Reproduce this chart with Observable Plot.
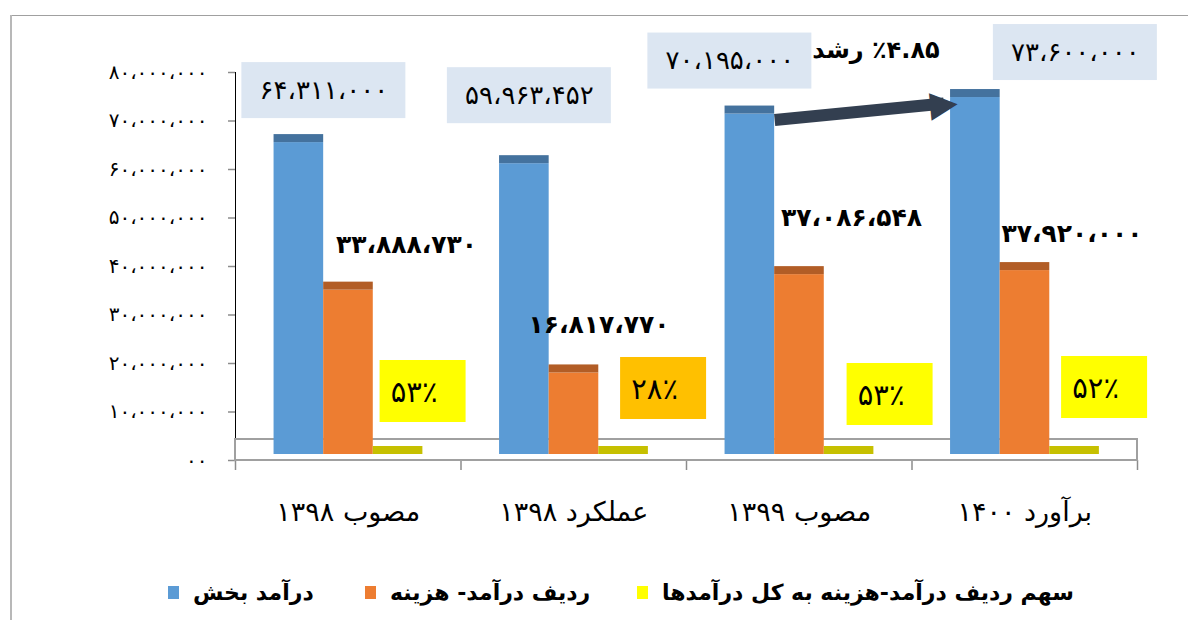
<!DOCTYPE html>
<html lang="fa">
<head>
<meta charset="utf-8">
<script src="https://cdn.jsdelivr.net/npm/d3@7"></script>
<script src="https://cdn.jsdelivr.net/npm/@observablehq/plot@0.6"></script>
<style>
  html,body{margin:0;padding:0;background:#fff;}
  #wrap{position:relative;width:1188px;height:620px;overflow:hidden;font-family:"DejaVu Sans",sans-serif;}
  #chart{position:absolute;left:0;top:0;}
  #chart svg [aria-label*="axis"] line, #chart svg [aria-label*="axis"] path{stroke:#8c8c8c;stroke-width:1.5px;}
  #topline{position:absolute;left:10px;top:15px;width:1178px;height:1px;background:#a0a0a0;}
  #leftline{position:absolute;left:10px;top:15px;width:2px;height:605px;background:#b8b8b8;}
  #legend{position:absolute;top:577px;left:0;height:30px;font-weight:bold;font-size:22px;color:#000;}
  .item{position:absolute;top:0;display:flex;align-items:center;height:30px;white-space:nowrap;}
  .sw{width:11px;height:13px;margin-right:14px;flex:none;}
</style>
</head>
<body>
<div id="wrap">
  <div id="chart"></div>
  <div id="legend"></div>
  <div id="topline"></div>
  <div id="leftline"></div>
</div>
<script>
// ---------- data ----------
const categories = ["مصوب ۱۳۹۸", "عملکرد ۱۳۹۸", "مصوب ۱۳۹۹", "برآورد ۱۴۰۰"];
const sectorIncome = [64311000, 59963452, 70195000, 73600000];
const incomeExpenseRow = [33888730, 16817770, 37086548, 37920000];
const shareOfTotal = [0.53, 0.28, 0.53, 0.52];
const growthPercent = 4.85;
const yTickValues = [0, 10000000, 20000000, 30000000, 40000000, 50000000, 60000000, 70000000, 80000000];
const yTickLabels = ["۰۰", "۱۰،۰۰۰،۰۰۰", "۲۰،۰۰۰،۰۰۰", "۳۰،۰۰۰،۰۰۰", "۴۰،۰۰۰،۰۰۰", "۵۰،۰۰۰،۰۰۰", "۶۰،۰۰۰،۰۰۰", "۷۰،۰۰۰،۰۰۰", "۸۰،۰۰۰،۰۰۰"];
const seriesNames = ["درآمد بخش", "ردیف درآمد- هزینه", "سهم ردیف درآمد-هزینه به کل درآمدها"];

// ---------- formatting ----------
const faDigits = s => String(s).replace(/[0-9]/g, d => "۰۱۲۳۴۵۶۷۸۹"[+d]);
const faNumber = v => faDigits(d3.format(",")(v)).replace(/,/g, "،");
const faPercent = v => faDigits(Math.round(v * 100)) + "٪";
const growthLabel = "\u200F٪" + faDigits(growthPercent.toFixed(2)) + " رشد";
const yLabelOf = new Map(yTickValues.map((v, i) => [v, yTickLabels[i]]));

// ---------- styles / layout ----------
const W = 1188, H = 568, mL = 235, mR = 51, mT = 72, mB = 108;
const bodyColors = ["#5b9bd5", "#ed7d31"];
const capColors = ["#44729e", "#b25d26"];
const shareBarColor = "#c6c000";
const legendColors = ["#5b9bd5", "#ed7d31", "#ffff00"];
const incomeBoxColor = "#dce6f2";
const shareBoxColors = ["#ffff00", "#ffc000", "#ffff00", "#ffff00"];
const slot = [0.171, 0.391, 0.611], bw = 0.22;
const blueOff = [[25, -58], [5, -74], [-20, -59], [100, -51]];
const orangeOff = [[58, -51], [25, -54], [52, -63], [47, -43]];
const shareOff = [[16, -68], [31, -71], [32, -65], [21, -72]];

const series = [sectorIncome, incomeExpenseRow, shareOfTotal];
const rows = series.flatMap((vals, s) => vals.map((value, i) => ({i, s, value})));
const X1 = d => d.i + slot[d.s], X2 = d => d.i + slot[d.s] + bw;

// arrow head angle from the pixel slope between the two bars
const sx = (W - mL - mR) / categories.length, sy = (H - mT - mB) / 80000000;
const headAngle = -Math.atan2((sectorIncome[3] - sectorIncome[2]) * sy, (1 - bw) * sx) * 180 / Math.PI;

const marks = [
  // 3D floor
  Plot.rect([0], {x1: () => 0, x2: () => categories.length, y1: () => 0, y2: () => 0, insetTop: -21, fill: "white", stroke: "#a0a0a0", strokeWidth: 2}),
];
[0, 1].forEach(s => {
  const d = rows.filter(r => r.s === s);
  marks.push(Plot.rect(d, {x1: X1, x2: X2, y1: 0, y2: "value", fill: bodyColors[s], dy: -6}));
  marks.push(Plot.rect(d, {x1: X1, x2: X2, y1: "value", y2: "value", insetTop: -8, fill: capColors[s], dy: -6}));
});
marks.push(Plot.rect(rows.filter(r => r.s === 2), {x1: X1, x2: X2, y1: 0, y2: "value", insetTop: -8, fill: shareBarColor, dy: -6}));

// label boxes (centered on the label anchors)
sectorIncome.forEach((v, i) => {
  const ax = j => j + slot[0] + bw / 2, ay = j => sectorIncome[j];
  marks.push(Plot.rect([i], {x1: ax, x2: ax, y1: ay, y2: ay, insetLeft: -82, insetRight: -82, insetTop: -28, insetBottom: -28, dx: blueOff[i][0], dy: blueOff[i][1], fill: incomeBoxColor}));
});
shareOfTotal.forEach((v, i) => {
  const ax = j => j + slot[2] + bw / 2, ay = j => shareOfTotal[j];
  marks.push(Plot.rect([i], {x1: ax, x2: ax, y1: ay, y2: ay, insetLeft: -43, insetRight: -43, insetTop: -31, insetBottom: -31, dx: shareOff[i][0] + 9, dy: shareOff[i][1] - 1, fill: shareBoxColors[i]}));
});

// growth arrow between 1399 and 1400
marks.push(Plot.link([2], {x1: i => i + slot[0] + bw, y1: i => sectorIncome[i], x2: i => i + 1 + slot[0] - 0.03, y2: i => sectorIncome[i + 1], stroke: "#333f50", strokeWidth: 12}));
marks.push(Plot.text([3], {x: i => i + slot[0] - 0.03, y: i => sectorIncome[i], text: () => "▶", rotate: headAngle, fontSize: 36, fill: "#333f50"}));

// value labels
sectorIncome.forEach((v, i) => marks.push(Plot.text([i], {x: j => j + slot[0] + bw / 2, y: j => sectorIncome[j], text: j => faNumber(sectorIncome[j]), dx: blueOff[i][0], dy: blueOff[i][1], fontSize: 26})));
incomeExpenseRow.forEach((v, i) => marks.push(Plot.text([i], {x: j => j + slot[1] + bw / 2, y: j => incomeExpenseRow[j], text: j => faNumber(incomeExpenseRow[j]), dx: orangeOff[i][0], dy: orangeOff[i][1], fontSize: 25, fontWeight: "bold"})));
shareOfTotal.forEach((v, i) => marks.push(Plot.text([i], {x: j => j + slot[2] + bw / 2, y: j => shareOfTotal[j], text: j => faPercent(shareOfTotal[j]), dx: shareOff[i][0], dy: shareOff[i][1], fontSize: 29})));
marks.push(Plot.text([3], {x: i => i, y: i => sectorIncome[i], text: () => growthLabel, dx: -36, dy: -53, fontSize: 24, fontWeight: "bold"}));

// category labels under the axis
marks.push(Plot.text(categories, {x: (d, i) => i + 0.5, y: () => 0, text: d => d, dy: 52, fontSize: 27}));

const svg = Plot.plot({
  width: W, height: H,
  marginLeft: mL, marginRight: mR, marginTop: mT, marginBottom: mB,
  style: {fontFamily: "DejaVu Sans", fontSize: "20px", color: "#000", background: "transparent"},
  x: {domain: [0, categories.length], ticks: d3.range(categories.length + 1), tickFormat: () => "", tickSize: 10, line: true, label: null},
  y: {domain: [0, 80000000], ticks: yTickValues, tickFormat: d => yLabelOf.get(d), tickSize: 7, tickPadding: 21, line: true, label: null},
  marks
});
document.getElementById("chart").appendChild(svg);

// legend
const lefts = [168, 365, 637];
const legend = document.getElementById("legend");
seriesNames.forEach((name, i) => {
  const it = document.createElement("div");
  it.className = "item";
  it.style.left = lefts[i] + "px";
  const sw = document.createElement("span");
  sw.className = "sw";
  sw.style.background = legendColors[i];
  const tx = document.createElement("span");
  tx.dir = "rtl";
  tx.textContent = name;
  it.appendChild(sw); it.appendChild(tx);
  legend.appendChild(it);
});
</script>
</body>
</html>
